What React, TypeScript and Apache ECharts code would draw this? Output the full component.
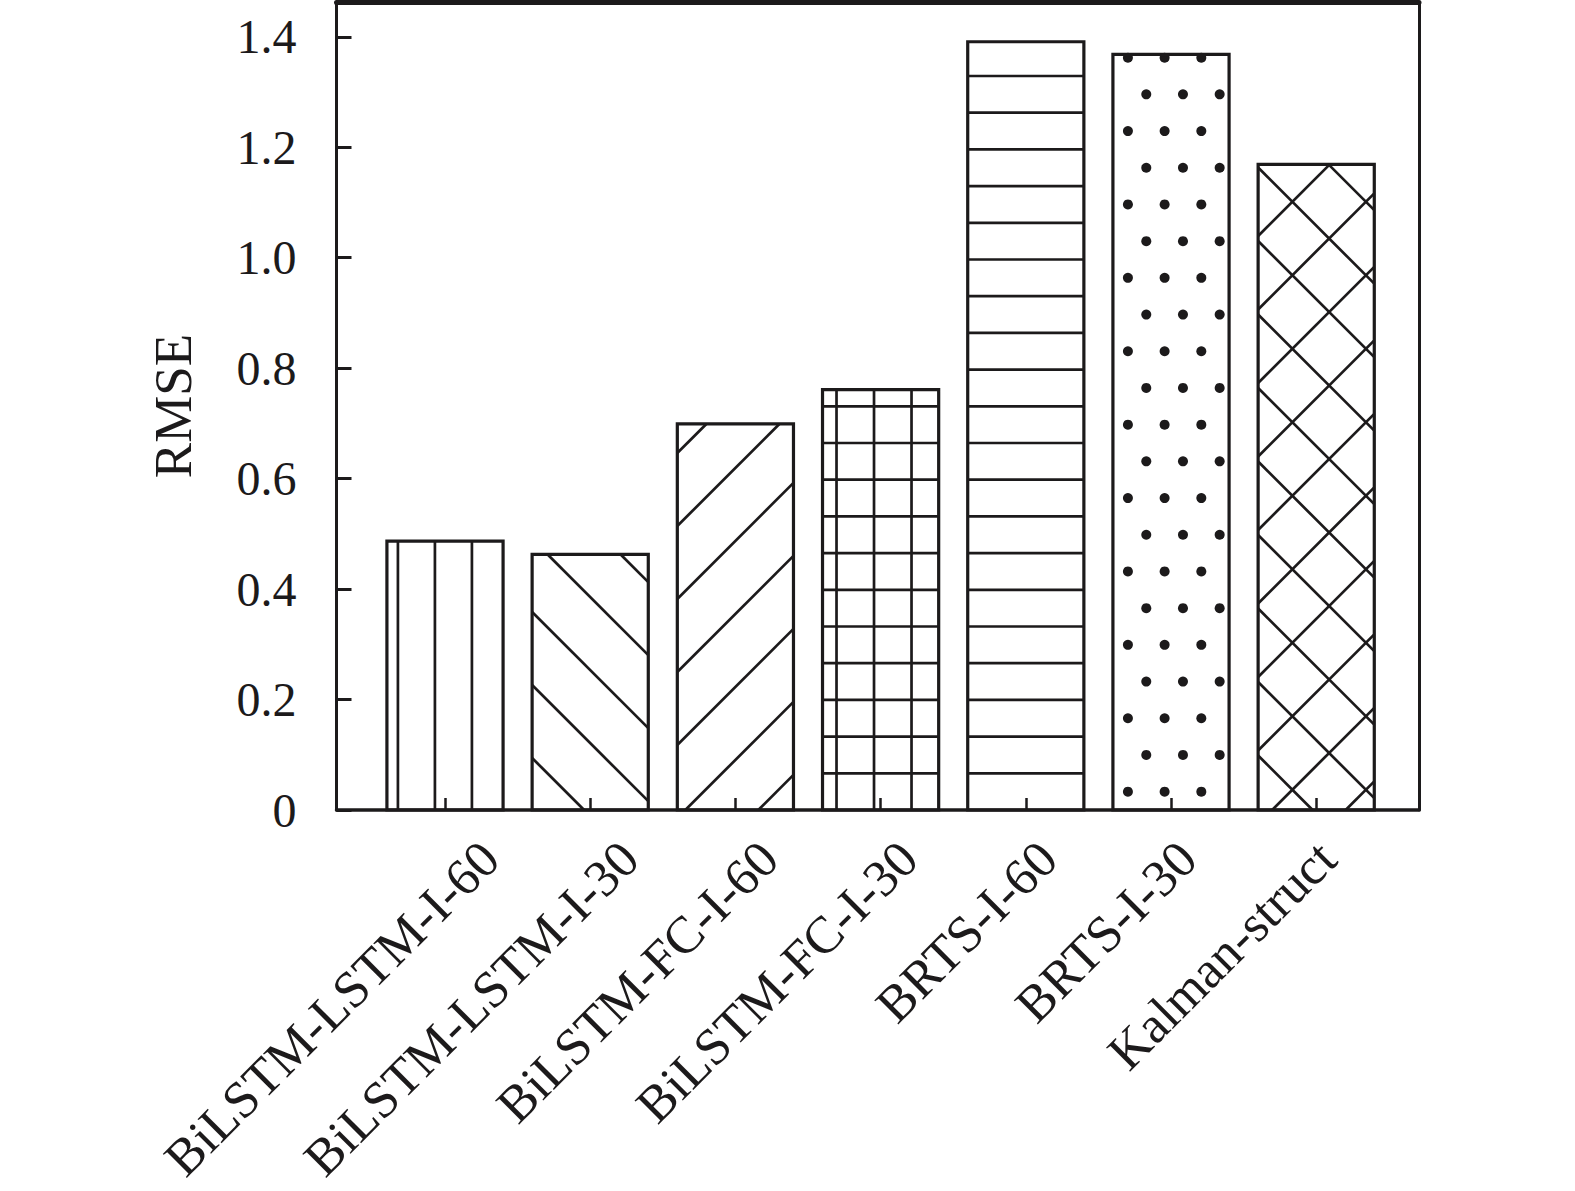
import React, { useEffect, useRef } from 'react';
import * as echarts from 'echarts';

const categories = [
  'BiLSTM-LSTM-I-60',
  'BiLSTM-LSTM-I-30',
  'BiLSTM-FC-I-60',
  'BiLSTM-FC-I-30',
  'BRTS-I-60',
  'BRTS-I-30',
  'Kalman-struct',
];
const rmse = [0.487, 0.463, 0.699, 0.761, 1.391, 1.368, 1.169];
const patterns = ['vertical', 'backslash', 'slash', 'grid', 'horizontal', 'dots', 'cross'];
const yTickLabels = ['0', '0.2', '0.4', '0.6', '0.8', '1.0', '1.2', '1.4'];
const Y_MAX = 1.463;
const Y_STEP = 0.2;

const INK = '#1c1a1b';
const FONT = "'Liberation Serif', 'Times New Roman', serif";
const PAT_W = 2.7;

type Seg = [number, number, number, number];

function buildPattern(kind: string, w: number, h: number) {
  const segs: Seg[] = [];
  const dots: [number, number][] = [];
  const hStep = 36.7;
  const diag = (c0: number, step: number, dir: 'back' | 'fwd') => {
    // back: v + u = c ; fwd: v - u = c
    if (dir === 'back') {
      let c = c0 % step;
      for (; c < w + h; c += step) {
        const u1 = Math.max(0, c - h);
        const u2 = Math.min(w, c);
        if (u2 - u1 > 0.5) segs.push([u1, c - u1, u2, c - u2]);
      }
    } else {
      let c = (c0 % step) - Math.ceil(w / step + 1) * step;
      for (; c < h; c += step) {
        const u1 = Math.max(0, -c);
        const u2 = Math.min(w, h - c);
        if (u2 - u1 > 0.5) segs.push([u1, u1 + c, u2, u2 + c]);
      }
    }
  };
  if (kind === 'vertical') {
    for (let u = 11; u < w - 1; u += 37) segs.push([u, 0, u, h]);
  } else if (kind === 'horizontal') {
    for (let v = hStep; v < h - 1; v += hStep) segs.push([0, v, w, v]);
  } else if (kind === 'grid') {
    for (let u = 14; u < w - 1; u += 37.5) segs.push([u, 0, u, h]);
    for (let v = hStep; v < h - 1; v += hStep) segs.push([0, v, w, v]);
  } else if (kind === 'backslash') {
    diag(52, 73, 'back');
  } else if (kind === 'slash') {
    diag(65, 73, 'fwd');
  } else if (kind === 'cross') {
    diag(54.5, 73.5, 'back');
    diag(59.5, 73.5, 'fwd');
  } else if (kind === 'dots') {
    let k = 0;
    for (let v = hStep / 2; v < h; v += hStep, k++) {
      const start = k % 2 === 0 ? 15 : 15 + hStep / 2;
      for (let u = start; u < w - 3; u += hStep) dots.push([u, v]);
    }
  }
  return { segs, dots };
}

export default function App() {
  const ref = useRef<HTMLDivElement>(null);
  useEffect(() => {
    const chart = echarts.init(ref.current!, null, { renderer: 'svg' });
    const hiddenAxis = {
      axisLine: { show: false },
      axisTick: { show: false },
      axisLabel: { show: false },
      splitLine: { show: false },
    };
    const option: any = {
      animation: false,
      backgroundColor: '#ffffff',
      grid: [
        { left: 336.5, right: 156, top: 2, bottom: 381, outerBoundsMode: 'none' },
        { left: 372.4, right: 186.2, top: 2, bottom: 381, outerBoundsMode: 'none' },
        { left: 420.25, right: 178.25, top: 2, bottom: 381, outerBoundsMode: 'none' },
      ],
      xAxis: [
        {
          gridIndex: 0,
          type: 'value',
          min: 0,
          max: 1,
          position: 'bottom',
          z: 12,
          axisLine: { show: true, onZero: false, lineStyle: { color: INK, width: 3.5 } },
          axisTick: { show: false },
          axisLabel: { show: false },
          splitLine: { show: false },
        },
        {
          gridIndex: 0,
          type: 'value',
          min: 0,
          max: 1,
          position: 'top',
          z: 12,
          axisLine: { show: true, onZero: false, lineStyle: { color: INK, width: 5 } },
          axisTick: { show: false },
          axisLabel: { show: false },
          splitLine: { show: false },
        },
        {
          gridIndex: 1,
          type: 'category',
          data: categories,
          boundaryGap: true,
          z: 11,
          axisLine: { show: false },
          axisTick: {
            show: true,
            inside: true,
            length: 12,
            alignWithLabel: true,
            lineStyle: { color: INK, width: 2.5 },
          },
          axisLabel: { show: false },
          splitLine: { show: false },
        },
        {
          gridIndex: 2,
          type: 'category',
          data: categories,
          boundaryGap: true,
          axisLine: { show: false },
          axisTick: { show: false },
          splitLine: { show: false },
          axisLabel: {
            show: true,
            interval: 0,
            rotate: 45,
            margin: 40,
            fontSize: 52,
            fontFamily: FONT,
            color: INK,
          },
        },
      ],
      yAxis: [
        {
          gridIndex: 0,
          type: 'value',
          min: 0,
          max: Y_MAX,
          interval: Y_STEP,
          position: 'left',
          z: 12,
          name: 'RMSE',
          nameLocation: 'middle',
          nameGap: 137,
          nameTextStyle: { fontSize: 53, fontFamily: FONT, color: INK },
          axisLine: { show: true, onZero: false, lineStyle: { color: INK, width: 3 } },
          axisTick: { show: true, inside: true, length: 15, lineStyle: { color: INK, width: 3 } },
          axisLabel: {
            show: true,
            margin: 40,
            fontSize: 48,
            fontFamily: FONT,
            color: INK,
            showMaxLabel: false,
            formatter: (v: number) => {
              const i = Math.round(v / Y_STEP);
              return Math.abs(i * Y_STEP - v) < 1e-6 ? yTickLabels[i] ?? '' : '';
            },
          },
          splitLine: { show: false },
        },
        {
          gridIndex: 0,
          type: 'value',
          min: 0,
          max: Y_MAX,
          position: 'right',
          z: 12,
          axisLine: { show: true, onZero: false, lineStyle: { color: INK, width: 3 } },
          axisTick: { show: false },
          axisLabel: { show: false },
          splitLine: { show: false },
        },
        { gridIndex: 1, type: 'value', min: 0, max: Y_MAX, ...hiddenAxis },
        { gridIndex: 2, type: 'value', min: 0, max: Y_MAX, ...hiddenAxis },
      ],
      series: [
        {
          type: 'custom',
          xAxisIndex: 2,
          yAxisIndex: 2,
          clip: false,
          z: 5,
          encode: { x: 0, y: 1 },
          data: categories.map((c, i) => [i, rmse[i], i]),
          renderItem: (params: any, api: any) => {
            const idx = api.value(0);
            const val = api.value(1);
            const kind = patterns[api.value(2)];
            const pTop = api.coord([idx, val]);
            const pBot = api.coord([idx, 0]);
            const band = api.size([1, 0])[0];
            const w = band * 0.8;
            const left = pTop[0] - w / 2;
            const bottom = pBot[1];
            const h = bottom - pTop[1];
            const { segs, dots } = buildPattern(kind, w, h);
            const children: any[] = [];
            children.push({
              type: 'rect',
              shape: { x: left, y: pTop[1], width: w, height: h },
              style: { fill: '#ffffff', stroke: 'none' },
            });
            segs.forEach((s) => {
              children.push({
                type: 'line',
                shape: { x1: left + s[0], y1: bottom - s[1], x2: left + s[2], y2: bottom - s[3] },
                style: { stroke: INK, lineWidth: PAT_W },
              });
            });
            dots.forEach((d) => {
              children.push({
                type: 'circle',
                shape: { cx: left + d[0], cy: bottom - d[1], r: 5 },
                style: { fill: INK, stroke: 'none' },
              });
            });
            children.push({
              type: 'rect',
              shape: { x: left, y: pTop[1], width: w, height: h },
              style: { fill: 'none', stroke: INK, lineWidth: 3.2 },
            });
            return { type: 'group', children };
          },
        },
      ],
    };
    chart.setOption(option);
    return () => chart.dispose();
  }, []);
  return (
    <div
      ref={ref}
      style={{ position: 'absolute', left: 0, top: 0, width: 1575, height: 1191, background: '#fff' }}
    />
  );
}
